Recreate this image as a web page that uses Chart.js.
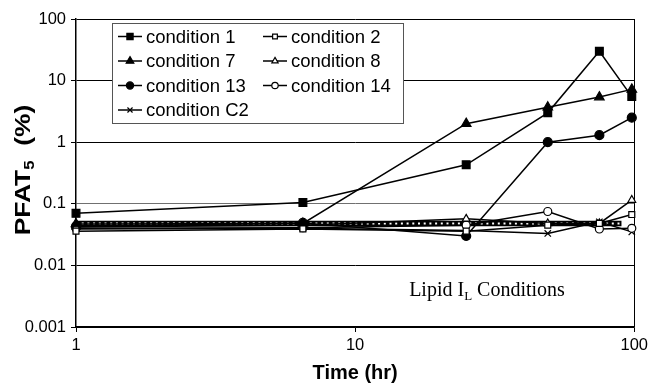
<!DOCTYPE html>
<html lang="en">

<head>
  <meta charset="UTF-8">
  <title>PFAT5 vs time - Lipid IL conditions</title>
  <script src="https://cdn.jsdelivr.net/npm/chart.js"></script>
  <style>
    html, body { margin: 0; padding: 0; background: #fff; }
    .chart-box { width: 652px; height: 383px; position: relative; }
  </style>
</head>

<body>
  <div class="chart-box">
    <canvas id="pfat-chart"></canvas>
  </div>

  <script>
    // sampling times (hr)
    const times = [1, 6.5, 25, 49, 75, 98];

    // PFAT5 (%) for each condition
    const cond1 = [0.07, 0.105, 0.43, 3.0, 30, 5.5];
    const cond2 = [0.036, 0.039, 0.036, 0.045, 0.048, 0.067];
    const cond7 = [0.047, 0.048, 2.0, 3.7, 5.4, 7.2];
    const cond8 = [0.042, 0.045, 0.057, 0.048, 0.048, 0.115];
    const cond13 = [0.043, 0.049, 0.03, 1.0, 1.3, 2.5];
    const cond14 = [0.04, 0.041, 0.045, 0.075, 0.039, 0.04];
    const condC2 = [0.039, 0.04, 0.037, 0.033, 0.051, 0.035];

    // dotted limit line
    const limitTimes = [1, 90];
    const limitValues = [0.048, 0.048];

    // axis ticks
    const xTicks = [1, 10, 100];
    const xTickLabels = ['1', '10', '100'];
    const yTicks = [0.001, 0.01, 0.1, 1, 10, 100];
    const yTickLabels = ['0.001', '0.01', '0.1', '1', '10', '100'];

    function pts(xs, ys) {
      return xs.map((x, i) => ({ x: x, y: ys[i] }));
    }

    function series(label, values, style, radius, filled) {
      return {
        label: label,
        data: pts(times, values),
        borderColor: '#000',
        borderWidth: 1.5,
        pointStyle: style,
        pointRadius: radius,
        pointBorderWidth: 1.2,
        pointBorderColor: '#000',
        pointBackgroundColor: filled ? '#000' : '#fff',
        tension: 0,
        clip: false,
        showInLegend: true
      };
    }

    const datasets = [
      series('condition 1', cond1, 'rect', 5.5, true),
      series('condition 2', cond2, 'rect', 4.2, false),
      series('condition 7', cond7, 'triangle', 5.5, true),
      series('condition 8', cond8, 'triangle', 4.5, false),
      series('condition 13', cond13, 'circle', 4.5, true),
      series('condition 14', cond14, 'circle', 4, false),
      series('condition C2', condC2, 'crossRot', 4.5, false),
      {
        label: 'limit dots',
        data: pts(limitTimes, limitValues),
        borderColor: '#fff',
        borderWidth: 2,
        borderDash: [2, 3.7],
        pointRadius: 0
      },
      {
        label: 'limit',
        data: pts(limitTimes, limitValues),
        borderColor: '#000',
        borderWidth: 5.5,
        pointRadius: 0
      }
    ];

    // legend box in the top left of the plot, two columns
    const boxLegend = {
      id: 'boxLegend',
      afterDatasetsDraw(chart) {
        const ctx = chart.ctx;
        const items = chart.data.datasets.filter(d => d.showInLegend);
        ctx.save();
        ctx.fillStyle = '#fff';
        ctx.fillRect(112.5, 23.5, 291, 100);
        ctx.strokeStyle = '#555';
        ctx.lineWidth = 1;
        ctx.strokeRect(112.5, 23.5, 291, 100);
        const rows = [36.5, 61, 85.5, 110];
        const cols = [118, 263];
        ctx.font = '18.5px "Liberation Sans", Arial, sans-serif';
        ctx.textBaseline = 'middle';
        items.forEach((d, i) => {
          const x = cols[i % 2];
          const y = rows[Math.floor(i / 2)];
          ctx.strokeStyle = '#000';
          ctx.lineWidth = 1.5;
          ctx.beginPath();
          ctx.moveTo(x, y);
          ctx.lineTo(x + 24, y);
          ctx.stroke();
          ctx.fillStyle = d.pointBackgroundColor;
          ctx.lineWidth = 1.2;
          Chart.helpers.drawPoint(ctx, {
            pointStyle: d.pointStyle,
            radius: d.pointRadius * 0.8,
            rotation: 0,
            borderWidth: 1.2
          }, x + 12, y);
          ctx.fillStyle = '#000';
          ctx.fillText(d.label, x + 28, y + 1);
        });
        ctx.restore();
      }
    };

    function drawParts(ctx, parts, cx, baseY) {
      let total = 0;
      parts.forEach(p => { ctx.font = p.font; p.w = ctx.measureText(p.t).width; total += p.w; });
      let x = cx - total / 2;
      parts.forEach(p => {
        ctx.font = p.font;
        ctx.fillText(p.t, x, baseY + (p.dy || 0));
        x += p.w;
      });
    }

    // axis titles and the note, with subscripts
    const labelsPlugin = {
      id: 'labels',
      afterDraw(chart) {
        const ctx = chart.ctx;
        const area = chart.chartArea;
        const bold = 'bold 20px "Liberation Sans", Arial, sans-serif';
        const boldY = 'bold 22px "Liberation Sans", Arial, sans-serif';
        const boldSmall = 'bold 14px "Liberation Sans", Arial, sans-serif';
        ctx.save();
        ctx.fillStyle = '#000';
        ctx.textBaseline = 'alphabetic';

        drawParts(ctx, [{ t: 'Time (hr)', font: bold }], (area.left + area.right) / 2, 379);

        // y title is a bit stretched along its length in the original
        ctx.save();
        ctx.translate(22, 170);
        ctx.rotate(-Math.PI / 2);
        ctx.scale(1.2, 1);
        drawParts(ctx, [
          { t: 'PFAT', font: boldY },
          { t: '5', font: boldSmall, dy: 4 },
          { t: '  (%)', font: boldY }
        ], 0, 8);
        ctx.restore();

        const serif = '20px "Liberation Serif", "Times New Roman", serif';
        const serifSmall = '13px "Liberation Serif", "Times New Roman", serif';
        drawParts(ctx, [
          { t: 'Lipid I', font: serif },
          { t: 'L', font: serifSmall, dy: 4 },
          { t: ' Conditions', font: serif }
        ], 487, 296);
        ctx.restore();
      }
    };

    new Chart(document.getElementById('pfat-chart'), {
      type: 'line',
      data: { datasets: datasets },
      options: {
        responsive: true,
        maintainAspectRatio: false,
        animation: false,
        layout: { padding: { top: 19, right: 16, left: 0, bottom: 0 } },
        plugins: {
          legend: { display: false },
          tooltip: { enabled: false }
        },
        scales: {
          x: {
            type: 'logarithmic',
            min: 1,
            max: 100,
            afterBuildTicks: scale => { scale.ticks = xTicks.map(v => ({ value: v })); },
            afterFit: scale => { scale.height = 56; },
            ticks: {
              autoSkip: false,
              maxRotation: 0,
              padding: 4,
              color: '#000',
              font: { family: '"Liberation Sans", Arial, sans-serif', size: 16.5 },
              callback: (v, i) => xTickLabels[i]
            },
            grid: {
              color: c => (c.tick && c.tick.value === 100 ? '#000' : 'rgba(0,0,0,0)'),
              tickColor: '#000',
              tickLength: 5,
              lineWidth: 1
            },
            border: { display: true, color: '#000', width: 1.5 }
          },
          y: {
            type: 'logarithmic',
            min: 0.001,
            max: 100,
            afterBuildTicks: scale => { scale.ticks = yTicks.map(v => ({ value: v })); },
            afterFit: scale => { scale.width = 76; },
            ticks: {
              autoSkip: false,
              padding: 5,
              color: '#000',
              font: { family: '"Liberation Sans", Arial, sans-serif', size: 16.5 },
              callback: (v, i) => yTickLabels[i]
            },
            grid: {
              color: c => (c.tick && c.tick.value === 0.1 ? '#707070' : '#000'),
              tickColor: '#000',
              tickLength: 5,
              lineWidth: 1
            },
            border: { display: true, color: '#000', width: 1.5 }
          }
        }
      },
      plugins: [boxLegend, labelsPlugin]
    });
  </script>
</body>

</html>
